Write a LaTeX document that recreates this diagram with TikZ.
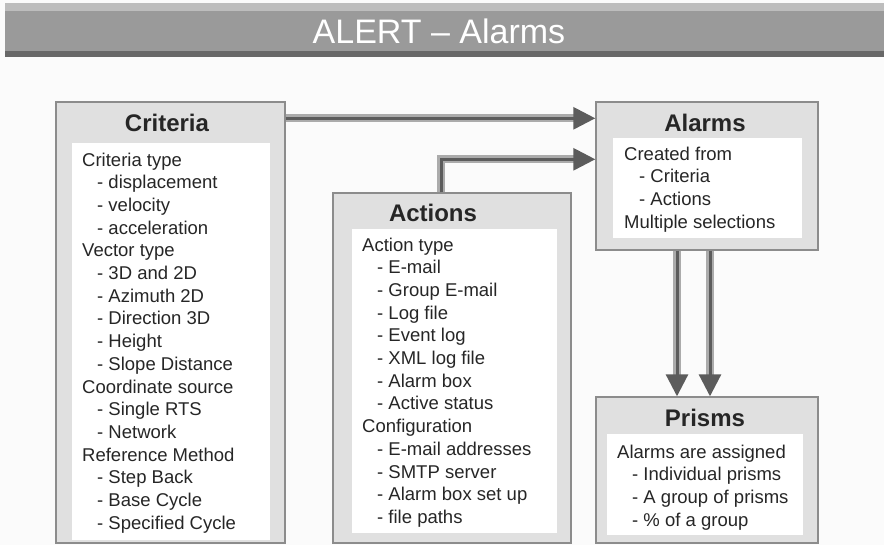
\documentclass[tikz,border=0pt]{standalone}
\usepackage{fontspec}
\setmainfont{Liberation Sans}
\usetikzlibrary{positioning,arrows.meta}
\definecolor{alpanel}{HTML}{E0E0E0}
\definecolor{alframe}{HTML}{8C8C8C}
\definecolor{altext}{HTML}{262626}
\definecolor{albar}{HTML}{9A9A9A}
\definecolor{albartop}{HTML}{BDBDBD}
\definecolor{albarlow}{HTML}{686868}
\definecolor{alflow}{HTML}{5C5C5C}
\definecolor{alflowedge}{HTML}{ABABAB}
\definecolor{alpage}{HTML}{FBFBFB}

\newcommand{\opt}[1]{\hspace*{15pt}- #1}

\tikzset{
  box/.style={draw=alframe, fill=alpanel, line width=1.4pt, inner sep=0pt},
  pane/.style={fill=white, inner sep=0pt},
  head/.style={font=\fontsize{24}{28}\selectfont\bfseries, text=black!85},
  entries/.style={anchor=north west, inner sep=0pt, align=left, text=altext,
    font=\fontsize{18.5}{22.7}\selectfont},
  flow/.style={-{Triangle[length=22pt,width=22pt]}, draw=alflow, line width=3pt,
    line join=miter, preaction={draw=alflowedge, line width=8pt, -, shorten >=18pt}}
}

\begin{document}
\begin{tikzpicture}[x=1pt,y=-1pt]
  \fill[alpage] (0,0) rectangle (884,545);
  % title bar
  \fill[albartop] (5,3) rectangle (884,11);
  \fill[albar] (5,11) rectangle (884,51);
  \fill[albarlow] (5,51) rectangle (884,57);
  \node[text=white, font=\fontsize{34}{40}\selectfont] (title) at (439,31) {ALERT – Alarms};

  % criteria
  \node[box, minimum width=229pt, minimum height=441pt] (crit) at (170.5,322.5) {};
  \node[head] (crithead) at (167,123) {Criteria};
  \node[pane, minimum width=198pt, minimum height=397pt] (critpane) at (171,341.5) {};
  \node[entries] (critlist) at (82,150) {\strut Criteria type\\
    \opt{displacement}\\ \opt{velocity}\\ \opt{acceleration}\\
    Vector type\\ \opt{3D and 2D}\\ \opt{Azimuth 2D}\\ \opt{Direction 3D}\\
    \opt{Height}\\ \opt{Slope Distance}\\
    Coordinate source\\ \opt{Single RTS}\\ \opt{Network}\\
    Reference Method\\ \opt{Step Back}\\ \opt{Base Cycle}\\ \opt{Specified Cycle}};

  % actions
  \node[box, minimum width=238pt, minimum height=350pt] (act) at (452,368) {};
  \node[head] (acthead) at (433,213) {Actions};
  \node[pane, minimum width=205pt, minimum height=304pt] (actpane) at (454.5,381) {};
  \node[entries] (actlist) at (362,235) {\strut Action type\\
    \opt{E-mail}\\ \opt{Group E-mail}\\ \opt{Log file}\\ \opt{Event log}\\
    \opt{XML log file}\\ \opt{Alarm box}\\ \opt{Active status}\\
    Configuration\\ \opt{E-mail addresses}\\ \opt{SMTP server}\\
    \opt{Alarm box set up}\\ \opt{file paths}};

  % alarms
  \node[box, minimum width=222pt, minimum height=148pt] (alarm) at (707,176) {};
  \node[head] (alarmhead) at (705,123) {Alarms};
  \node[pane, minimum width=189pt, minimum height=100pt] (alarmpane) at (707.5,188) {};
  \node[entries] (alarmlist) at (624,144) {\strut Created from\\
    \opt{Criteria}\\ \opt{Actions}\\ Multiple selections};

  % prisms
  \node[box, minimum width=222pt, minimum height=146pt] (prism) at (707,470) {};
  \node[head] (prismhead) at (705,418) {Prisms};
  \node[pane, minimum width=196pt, minimum height=101pt] (prismpane) at (705,484.5) {};
  \node[entries] (prismlist) at (617,442) {\strut Alarms are assigned\\
    \opt{Individual prisms}\\ \opt{A group of prisms}\\ \opt{\% of a group}};

  % connectors
  \draw[flow] ([yshift=-17pt]crit.north east) -- ([yshift=-17pt]alarm.north west);
  \draw[flow] ([xshift=-11pt]act.north) |- ([yshift=-58pt]alarm.north west);
  \draw[flow] ([xshift=-30pt]alarm.south) -- ([xshift=-30pt]prism.north);
  \draw[flow] ([xshift=3pt]alarm.south) -- ([xshift=3pt]prism.north);
\end{tikzpicture}
\end{document}
